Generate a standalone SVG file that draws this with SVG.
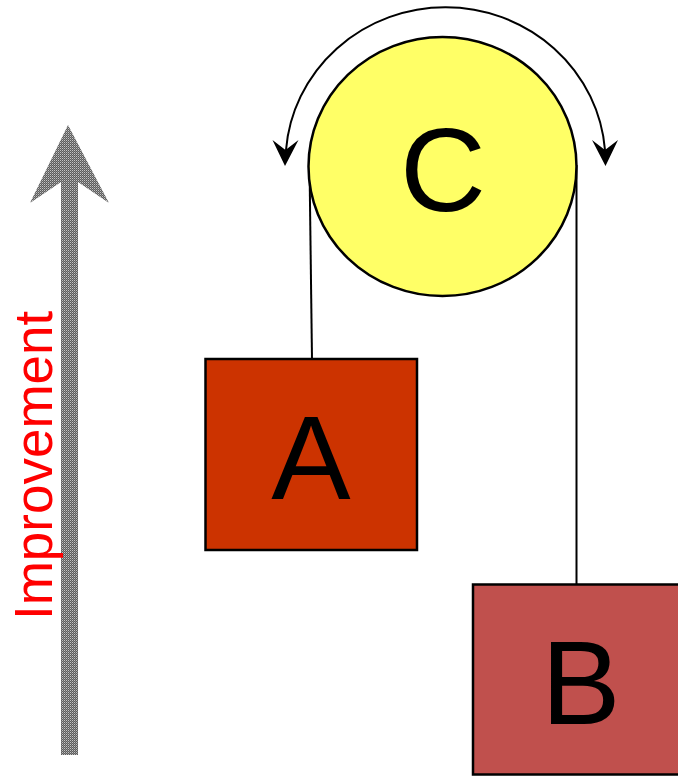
<svg xmlns="http://www.w3.org/2000/svg" width="678" height="776" viewBox="0 0 678 776">
  <style>
    .lbl { font-family: "Liberation Sans", Arial, sans-serif; font-size: 119px; fill: #000; text-anchor: middle; }
    .box { stroke: #000; stroke-width: 2.5; }
    .conn { stroke: #000; stroke-width: 2; fill: none; }
  </style>
  <defs>
    <pattern id="dots" width="2" height="2" patternUnits="userSpaceOnUse">
      <rect width="2" height="2" fill="#5c5c5c"/>
      <rect width="1" height="1" fill="#c4c4c4"/>
      <rect x="1" y="1" width="1" height="1" fill="#8a8a8a"/>
    </pattern>
  </defs>
  <rect width="678" height="776" fill="#fff"/>
  <g id="improvement-arrow">
    <polygon points="68,125 109,203 78,182 78,755 61,755 61,182 30,203" fill="url(#dots)"/>
    <text transform="translate(52,620) rotate(-90)" font-family="Liberation Sans, Arial, sans-serif" font-size="53" fill="#ff0000">Improvement</text>
  </g>
  <g id="connectors">
    <line class="conn" x1="309.5" y1="165" x2="312" y2="359"/>
    <line class="conn" x1="576.5" y1="165" x2="576.5" y2="584"/>
    <path class="conn" stroke-width="2.5" d="M286,150 A160,155 0 0 1 605,150"/>
    <polygon points="285,166 272.5,140 285.5,150 298.5,140" fill="#000"/>
    <polygon points="605.5,166 592,140 605,150 618,140" fill="#000"/>
  </g>
  <g id="node-C">
    <ellipse cx="442.5" cy="166.5" rx="134" ry="129.5" fill="#ffff66" stroke="#000" stroke-width="2.5"/>
    <text class="lbl" x="443" y="211">C</text>
  </g>
  <g id="node-A">
    <rect class="box" x="205.5" y="359" width="211.5" height="191" fill="#cc3300"/>
    <text class="lbl" x="311" y="499">A</text>
  </g>
  <g id="node-B">
    <rect class="box" x="473" y="584.5" width="210" height="190" fill="#c0504d"/>
    <text class="lbl" x="581" y="724">B</text>
  </g>
</svg>
